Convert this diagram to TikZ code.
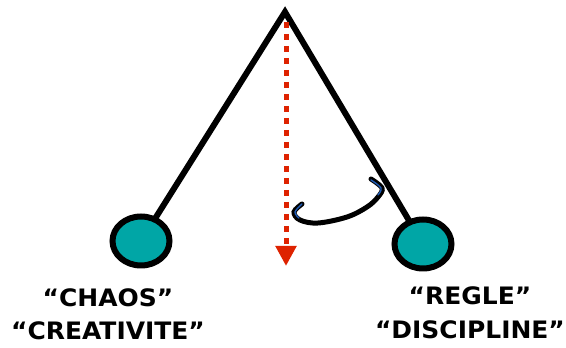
\documentclass[tikz,border=0pt]{standalone}
\usepackage{fontspec}
\setmainfont{DejaVu Sans}
\newfontfamily\captionfont[FakeStretch=1.04]{DejaVu Sans}
\usetikzlibrary{arrows.meta,shapes.geometric}
\definecolor{ballteal}{RGB}{0,166,166}
\definecolor{swingred}{RGB}{222,34,0}
\definecolor{curlblue}{RGB}{30,90,180}
\tikzset{
  rod/.style={line width=6pt, line join=miter},
  bob/.style={ellipse, draw=black, line width=6pt, fill=ballteal,
              minimum width=57pt, minimum height=49pt, inner sep=0pt},
  label/.style={font=\captionfont\bfseries\fontsize{24}{27}\selectfont, align=center},
  swing/.style={swingred, line width=5pt, dash pattern=on 6pt off 6pt,
                -{Triangle[length=20pt,width=20pt]}},
}
\begin{document}
\begin{tikzpicture}[x=1pt,y=1pt]
  \useasboundingbox (0,0) rectangle (566,348);
  % pivot and the two bob centres
  \coordinate (apex) at (285,336);
  \coordinate (lc) at (141,107);
  \coordinate (rc) at (423,104);
  % rods
  \draw[rod] (lc) -- (apex) -- (rc);
  % bobs
  \node[bob] (lbob) at (lc) {};
  \node[bob] (rbob) at (rc) {};
  % vertical plumb line
  \coordinate (ptop) at (286,326);
  \coordinate (pbot) at (286,82);
  \draw[swing] (ptop) -- (pbot);
  % rotation curl
  \draw[line width=5pt, line cap=round]
    plot[smooth, tension=0.6] coordinates {(302,144) (294,136) (300,128) (318,125) (347,131) (367,141) (378,151) (382,160) (371,169)};
  \draw[curlblue, line width=1.4pt, line cap=round]
    plot[smooth, tension=0.6] coordinates {(302,144) (295,136) (299,130)};
  \draw[curlblue, line width=1.4pt, line cap=round]
    plot[smooth, tension=0.6] coordinates {(378,153) (381,160) (371,168)};
  % captions
  \node[label] (lt1) at (108,50) {“CHAOS”};
  \node[label] (lt2) at (108,17) {“CREATIVITE”};
  \node[label] (rt1) at (470,52) {“REGLE”};
  \node[label] (rt2) at (470,18) {“DISCIPLINE”};
\end{tikzpicture}
\end{document}
